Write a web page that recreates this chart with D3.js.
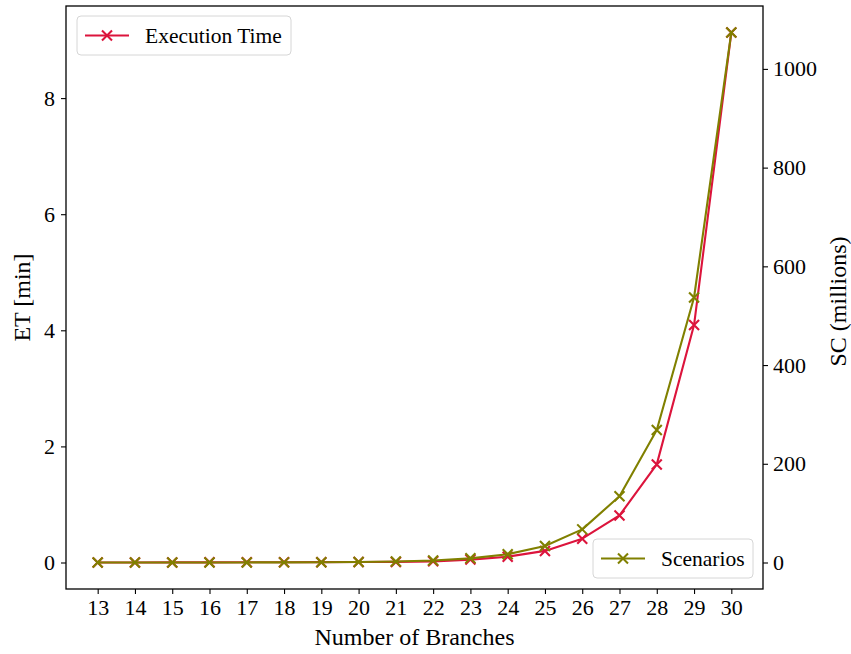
<!DOCTYPE html>
<html>
<head>
<meta charset="utf-8">
<script src="https://cdn.jsdelivr.net/npm/d3@7"></script>
<style>
  html, body { margin: 0; padding: 0; background: #fff; }
  svg { display: block; }
  text { font-family: "Liberation Serif", "Times New Roman", serif; fill: #000; }
</style>
</head>
<body>
<svg id="chart" width="851" height="654"></svg>
<script>
// ---- data ----
const branches = [13, 14, 15, 16, 17, 18, 19, 20, 21, 22, 23, 24, 25, 26, 27, 28, 29, 30];
const executionTime = [0.001, 0.001, 0.002, 0.003, 0.004, 0.005, 0.006, 0.008, 0.01, 0.02, 0.05, 0.1, 0.2, 0.41, 0.81, 1.69, 4.09, 9.13];
const scenarios = [0.008192, 0.016384, 0.032768, 0.065536, 0.131072, 0.262144, 0.524288, 1.048576,
  2.097152, 4.194304, 8.388608, 16.777216, 33.554432, 67.108864, 134.217728, 268.435456, 536.870912, 1073.741824];
const leftTicks = [0, 2, 4, 6, 8];
const rightTicks = [0, 200, 400, 600, 800, 1000];
const seriesNames = ["Execution Time", "Scenarios"];
const colors = ["#DC143C", "#808000"];

// ---- layout ----
const plot = { left: 66, right: 763, top: 6, bottom: 589 };
const svg = d3.select("#chart");

function padded(min, max) { const m = (max - min) * 0.05; return [min - m, max + m]; }

const x = d3.scaleLinear().domain(padded(d3.min(branches), d3.max(branches))).range([plot.left, plot.right]);
const yL = d3.scaleLinear().domain(padded(0, d3.max(executionTime))).range([plot.bottom, plot.top]);
const yR = d3.scaleLinear().domain(padded(0, d3.max(scenarios))).range([plot.bottom, plot.top]);

const tickFont = "22px";

// axes
const gx = svg.append("g").attr("transform", `translate(0,${plot.bottom})`)
  .call(d3.axisBottom(x).tickValues(branches).tickFormat(d3.format("d")).tickSize(5).tickPadding(5));
const gl = svg.append("g").attr("transform", `translate(${plot.left},0)`)
  .call(d3.axisLeft(yL).tickValues(leftTicks).tickFormat(d3.format("d")).tickSize(5).tickPadding(6));
const gr = svg.append("g").attr("transform", `translate(${plot.right},0)`)
  .call(d3.axisRight(yR).tickValues(rightTicks).tickFormat(d3.format("d")).tickSize(5).tickPadding(5));
[gx, gl, gr].forEach(g => {
  g.select(".domain").remove();
  g.selectAll(".tick line").attr("stroke", "#000").attr("stroke-width", 1.1);
  g.selectAll(".tick text").style("font-size", tickFont).attr("font-family", "Liberation Serif");
});

// frame
svg.append("rect").attr("x", plot.left).attr("y", plot.top)
  .attr("width", plot.right - plot.left).attr("height", plot.bottom - plot.top)
  .attr("fill", "none").attr("stroke", "#000").attr("stroke-width", 1.3);

// series
function drawSeries(values, yScale, color) {
  const pts = branches.map((b, i) => [x(b), yScale(values[i])]);
  svg.append("path").attr("d", d3.line()(pts)).attr("fill", "none")
    .attr("stroke", color).attr("stroke-width", 2.1).attr("stroke-linejoin", "round");
  const s = 5;
  svg.append("g").selectAll("path").data(pts).join("path")
    .attr("d", p => `M${p[0]-s},${p[1]-s}L${p[0]+s},${p[1]+s}M${p[0]-s},${p[1]+s}L${p[0]+s},${p[1]-s}`)
    .attr("stroke", color).attr("stroke-width", 2.1).attr("fill", "none");
}
drawSeries(executionTime, yL, colors[0]);
drawSeries(scenarios, yR, colors[1]);

// axis labels
const labelFont = "24px";
svg.append("text").attr("x", (plot.left + plot.right) / 2).attr("y", 645)
  .attr("text-anchor", "middle").style("font-size", labelFont).text("Number of Branches");
svg.append("text").attr("transform", `translate(30,${(plot.top + plot.bottom) / 2}) rotate(-90)`)
  .attr("text-anchor", "middle").style("font-size", labelFont).text("ET [min]");
svg.append("text").attr("transform", `translate(846,${(plot.top + plot.bottom) / 2 + 4}) rotate(-90)`)
  .attr("text-anchor", "middle").style("font-size", labelFont).text("SC (millions)");

// legends
function legend(x0, y0, w, h, name, color) {
  const g = svg.append("g").attr("transform", `translate(${x0},${y0})`);
  g.append("rect").attr("width", w).attr("height", h).attr("rx", 4)
    .attr("fill", "#fff").attr("fill-opacity", 0.8).attr("stroke", "#d6d6d6").attr("stroke-width", 1);
  const cy = h / 2;
  g.append("line").attr("x1", 8).attr("x2", 52).attr("y1", cy).attr("y2", cy)
    .attr("stroke", color).attr("stroke-width", 2.1);
  const s = 5, mx = 30;
  g.append("path").attr("d", `M${mx-s},${cy-s}L${mx+s},${cy+s}M${mx-s},${cy+s}L${mx+s},${cy-s}`)
    .attr("stroke", color).attr("stroke-width", 2.1);
  g.append("text").attr("x", 68).attr("y", cy + 7).style("font-size", "21.5px").text(name);
}
legend(77, 16, 214, 39, seriesNames[0], colors[0]);
legend(593, 539, 160, 39, seriesNames[1], colors[1]);
</script>
</body>
</html>
